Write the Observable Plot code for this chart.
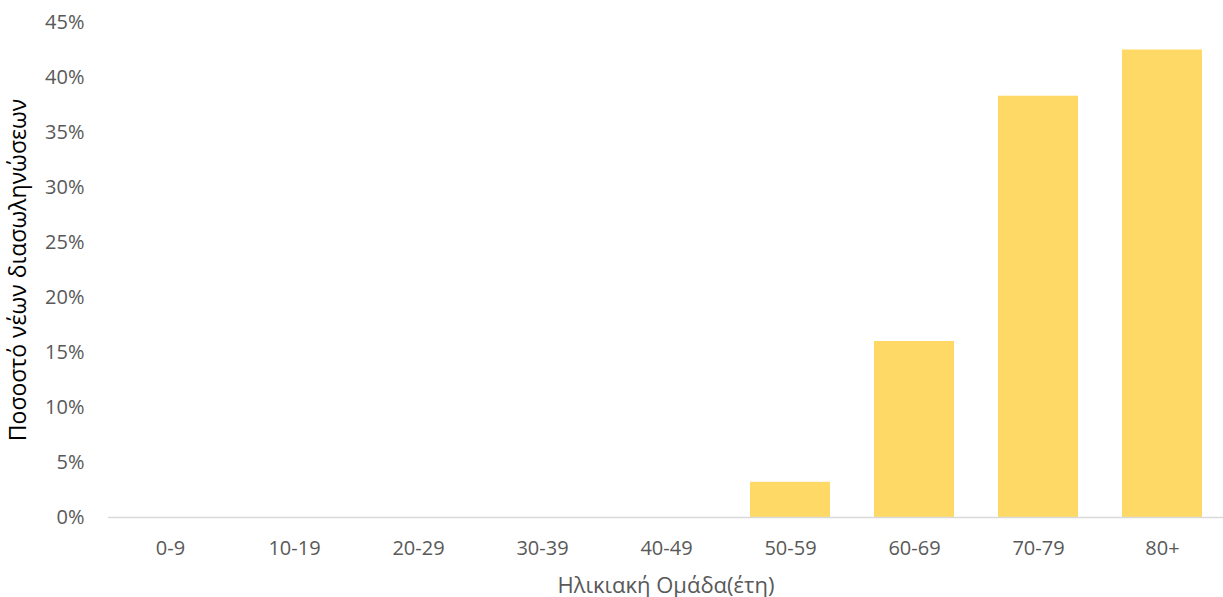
<!DOCTYPE html>
<html><head><meta charset="utf-8">
<script src="https://cdn.jsdelivr.net/npm/d3@7"></script>
<script src="https://cdn.jsdelivr.net/npm/@observablehq/plot@0.6"></script>
<style>body{margin:0;background:#fff;font-family:"Open Sans",sans-serif}</style>
</head><body><div id="chart"></div>
<script>
const ageGroups = ["0-9","10-19","20-29","30-39","40-49","50-59","60-69","70-79","80+"];
const shares = [0, 0, 0, 0, 0, 0.032, 0.160, 0.383, 0.425];
const yTicks = [0,0.05,0.10,0.15,0.20,0.25,0.30,0.35,0.40,0.45];
const data = ageGroups.map((g,i)=>({group:g, share:shares[i]}));
const chart = Plot.plot({
  width: 1223, height: 597,
  marginLeft: 108, marginRight: 0, marginTop: 22, marginBottom: 80,
  style: {fontFamily: '"Open Sans", sans-serif', fontSize: "20px", color: "#595959", background: "#fff", overflow: "visible"},
  x: {domain: ageGroups, paddingInner: 0.355, paddingOuter: 0.17, label: null},
  y: {domain: [0, 0.45], label: null},
  marks: [
    Plot.barY(data, {x: "group", y: "share", fill: "#FFD966"}),
    Plot.ruleY([0], {stroke: "#d9d9d9", strokeWidth: 1.5}),
    Plot.axisX({tickSize: 0, tickPadding: 23, fontSize: 20, label: "Ηλικιακή Ομάδα(έτη)", labelAnchor: "center", labelOffset: 75, labelArrow: "none"}),
    Plot.axisY({ticks: yTicks, tickSize: 0, tickPadding: 24, tickFormat: d3.format(".0%"), fontSize: 20, label: null}),
    Plot.text(["Ποσοστό νέων διασωληνώσεων"], {frameAnchor: "left", dx: -90, rotate: -90, fontSize: 23, fill: "#000", textAnchor: "middle"})
  ]
});
chart.querySelectorAll("g[aria-label='x-axis label'] text, g[aria-label='x-axis label']").forEach(e=>e.setAttribute("font-size","22"));
document.getElementById("chart").appendChild(chart);
</script></body></html>
